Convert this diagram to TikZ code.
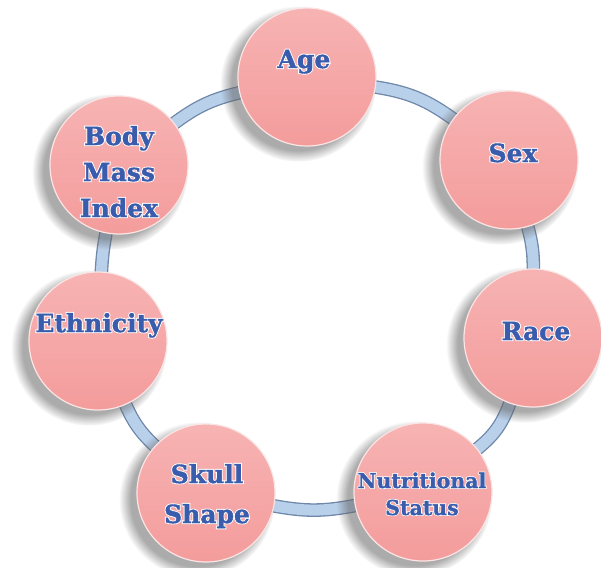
\documentclass[tikz,border=0pt]{standalone}
\usepackage{fontspec}
\setmainfont{DejaVu Serif}[BoldFeatures={FakeBold=1.5}]
\newfontfamily\halofont[FakeBold=9]{DejaVu Serif Bold}
\usetikzlibrary{shadows,backgrounds}
\definecolor{pinkTop}{HTML}{F7B3B3}
\definecolor{pinkBot}{HTML}{F49C9C}
\definecolor{pinkRim}{HTML}{FBE4E4}
\definecolor{bandFill}{HTML}{B9D0EB}
\definecolor{bandEdge}{HTML}{6E86A8}
\definecolor{txtblue}{HTML}{3A5CAC}
\newcommand\olt[1]{\rlap{\textcolor{white}{\halofont #1}}\textcolor{txtblue}{#1}}
\begin{document}
\begin{tikzpicture}[x=1pt,y=-1pt,
  disc/.style={circle, minimum size=138pt, inner sep=0pt, top color=pinkTop, bottom color=pinkBot,
    draw=pinkRim, line width=1.2pt,
    circular drop shadow={shadow xshift=-8pt, shadow yshift=-6pt, opacity=.55, shadow scale=1.13, fill=black!60}},
  band/.style={draw=bandEdge, line width=1.3pt, double=bandFill, double distance=11pt,
    shorten <=-4pt, shorten >=-4pt},
  lbl/.style={font=\fontsize{25}{36}\selectfont\bfseries, align=center, inner sep=0pt, anchor=base},
]
\useasboundingbox (0,0) rectangle (601,567);
\node[disc] (age)   at (307,77)  {};
\node[disc] (sex)   at (509,160) {};
\node[disc] (race)  at (533,338) {};
\node[disc] (nut)   at (423,492) {};
\node[disc] (skull) at (206,493) {};
\node[disc] (eth)   at (98,341)  {};
\node[disc] (bmi)   at (119,165) {};
\begin{pgfonlayer}{background}
\draw[band] (age) to[bend left=14] (sex);
\draw[band] (sex) to[bend left=8] (race);
\draw[band] (race) to[bend left=16] (nut);
\draw[band] (nut) to[bend left=11] (skull);
\draw[band] (skull) to[bend left=12] (eth);
\draw[band] (eth) to[bend left=4] (bmi);
\draw[band] (bmi) to[bend left=12] (age);
\end{pgfonlayer}
\node[lbl] (ageT) at (304,68) {\olt{Age}};
\node[lbl] (sexT) at (513,162) {\olt{Sex}};
\node[lbl] (raceT) at (536,340) {\olt{Race}};
\node[lbl, font=\fontsize{20.5}{27}\selectfont\bfseries] (nutT) at (422,515) {\olt{Nutritional}\\\olt{Status}};
\node[lbl, font=\fontsize{25}{40}\selectfont\bfseries] (skullT) at (207,523) {\olt{Skull}\\\olt{Shape}};
\node[lbl] (ethT) at (99,332) {\olt{Ethnicity}};
\node[lbl] (bmiT) at (119,217) {\olt{Body}\\\olt{Mass}\\\olt{Index}};
\end{tikzpicture}
\end{document}
